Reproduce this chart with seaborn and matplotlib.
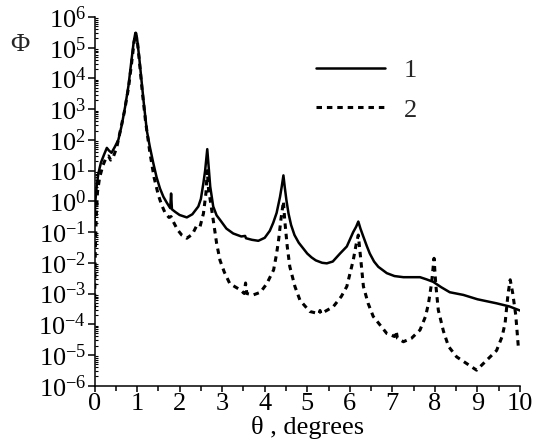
import numpy as np
import pandas as pd
import matplotlib
matplotlib.use("Agg")
import matplotlib.pyplot as plt
import matplotlib.ticker as mticker
import seaborn as sns

# ---- data ----
theta1 = [0.00, 0.02, 0.05, 0.09, 0.15, 0.22, 0.29, 0.34, 0.40, 0.48, 0.56, 0.64,
          0.72, 0.80, 0.87, 0.92, 0.96, 1.00, 1.05, 1.10, 1.16, 1.23, 1.30, 1.38,
          1.46, 1.54, 1.62, 1.70, 1.78, 1.80, 1.82, 1.90, 2.00, 2.17, 2.30, 2.44,
          2.50, 2.56, 2.60, 2.65, 2.69, 2.72, 2.79, 2.87, 2.95, 3.10, 3.26, 3.45,
          3.54, 3.56, 3.70, 3.85, 4.00, 4.12, 4.20, 4.28, 4.36, 4.40, 4.44, 4.47,
          4.51, 4.56, 4.62, 4.70, 4.80, 4.90, 5.00, 5.10, 5.20, 5.35, 5.46, 5.60,
          5.77, 5.93, 6.08, 6.15, 6.20, 6.25, 6.32, 6.40, 6.47, 6.57, 6.67, 6.87,
          7.05, 7.26, 7.45, 7.65, 7.80, 7.96, 8.15, 8.35, 8.67, 9.00, 9.45, 9.75,
          10.00]
phi1 = [0.2, 1.0, 3.0, 8.0, 18, 32, 55, 45, 38, 60, 100, 300,
        1200, 6000, 4e4, 1.5e5, 3e5, 2e5, 5e4, 1e4, 1500, 200, 60, 18,
        6.0, 2.6, 1.4, 0.9, 0.6, 1.8, 0.55, 0.45, 0.36, 0.30, 0.38, 0.68,
        1.2, 4.0, 10, 50, 10, 3.0, 0.68, 0.35, 0.25, 0.13, 0.09, 0.072,
        0.075, 0.063, 0.056, 0.052, 0.065, 0.11, 0.2, 0.42, 1.4, 3.0, 7.0, 3.0,
        1.1, 0.4, 0.17, 0.08, 0.045, 0.03, 0.02, 0.015, 0.012, 0.010, 0.0096, 0.011,
        0.02, 0.034, 0.10, 0.15, 0.22, 0.13, 0.07, 0.035, 0.02, 0.011, 0.0074, 0.0046,
        0.0037, 0.0034, 0.0034, 0.0034, 0.0029, 0.0024, 0.0016, 0.0011, 0.0009, 0.00065, 0.00048, 0.00038,
        0.00028]

theta2 = [0.00, 0.01, 0.02, 0.04, 0.07, 0.12, 0.20, 0.28, 0.33, 0.38, 0.45, 0.52,
          0.60, 0.70, 0.80, 0.87, 0.93, 0.97, 1.01, 1.06, 1.12, 1.20, 1.30, 1.40,
          1.50, 1.58, 1.66, 1.75, 1.80, 1.85, 1.95, 2.05, 2.17, 2.30, 2.40, 2.48,
          2.56, 2.62, 2.65, 2.68, 2.72, 2.79, 2.87, 2.95, 3.05, 3.18, 3.43, 3.52,
          3.55, 3.58, 3.73, 3.90, 4.05, 4.15, 4.21, 4.28, 4.33, 4.38, 4.44, 4.47,
          4.53, 4.59, 4.71, 4.83, 5.06, 5.28, 5.30, 5.32, 5.61, 5.80, 5.93, 6.08,
          6.15, 6.20, 6.26, 6.32, 6.43, 6.55, 6.87, 7.05, 7.09, 7.12, 7.26, 7.45,
          7.65, 7.78, 7.85, 7.92, 7.98, 8.02, 8.08, 8.20, 8.32, 8.51, 8.98, 9.45,
          9.58, 9.65, 9.72, 9.77, 9.83, 9.90, 9.96]
phi2 = [3e-4, 3e-3, 0.03, 0.3, 2.0, 6.0, 15, 28, 30, 22, 30, 55,
        180, 800, 5000, 3e4, 1.5e5, 3e5, 1.5e5, 3e4, 4000, 400, 40, 6.0,
        1.6, 0.75, 0.42, 0.3, 0.32, 0.22, 0.12, 0.08, 0.063, 0.085, 0.16, 0.15,
        0.4, 1.9, 10, 2.5, 1.1, 0.25, 0.043, 0.012, 0.005, 0.0021, 0.0013, 0.0010,
        0.0022, 0.0010, 0.0009, 0.0011, 0.0021, 0.0040, 0.0059, 0.02, 0.06, 0.25, 1.0, 0.25,
        0.034, 0.0075, 0.0017, 6e-4, 2.6e-4, 2.2e-4, 2.8e-4, 2.2e-4, 3.7e-4, 8e-4, 0.0017, 0.012,
        0.04, 0.08, 0.012, 0.0017, 4.8e-4, 1.8e-4, 5e-5, 4e-5, 6e-5, 3.5e-5, 2.7e-5, 3.5e-5,
        6.5e-5, 1.8e-4, 4.8e-4, 2.1e-3, 0.014, 2e-3, 2.9e-4, 6e-5, 1.9e-5, 8.7e-6, 3.2e-6, 1.4e-5,
        4e-5, 1.1e-4, 1e-3, 2.8e-3, 1e-3, 2e-4, 1.9e-5]

legend_labels = ["1", "2"]

df1 = pd.DataFrame({"theta": theta1, "phi": phi1})
df2 = pd.DataFrame({"theta": theta2, "phi": phi2})

sns.set_theme(style="ticks")
plt.rcParams["font.family"] = ["Liberation Serif", "DejaVu Serif"]
plt.rcParams["mathtext.fontset"] = "stix"
FS = 19
plt.rcParams["font.size"] = FS

fig = plt.figure(figsize=(5.34, 4.46), dpi=100)
ax = fig.add_axes([94.5 / 534, 1 - 385.7 / 446, (520 - 94.5) / 534, (385.7 - 17) / 446])

sns.lineplot(data=df1, x="theta", y="phi", ax=ax, color="black", lw=1.8,
             estimator=None, sort=False, label=legend_labels[0])
sns.lineplot(data=df2, x="theta", y="phi", ax=ax, color="black", lw=2.2,
             estimator=None, sort=False, label=legend_labels[1],
             linestyle=(0, (1.8, 1.6)))

ax.set_yscale("log")
ax.set_xlim(0, 10)
ax.set_ylim(1e-6, 1e6)

ax.xaxis.set_major_locator(mticker.MultipleLocator(1))
ax.xaxis.set_minor_locator(mticker.MultipleLocator(0.5))
ax.yaxis.set_major_locator(mticker.LogLocator(base=10, numticks=20))
ax.yaxis.set_minor_locator(mticker.LogLocator(base=10, subs=np.arange(2, 10), numticks=20))
ax.yaxis.set_minor_formatter(mticker.NullFormatter())

for s in ["top", "right"]:
    ax.spines[s].set_visible(False)
for s in ["left", "bottom"]:
    ax.spines[s].set_linewidth(1.1)
    ax.spines[s].set_color("black")

ax.tick_params(axis="x", which="major", direction="out", length=4.0, width=1.1,
               labelsize=FS, colors="black", pad=1)
ax.tick_params(axis="x", which="minor", direction="out", length=3.5, width=1.1, colors="black")
ax.tick_params(axis="y", which="major", direction="out", length=5, width=1.1,
               labelsize=FS, colors="black", pad=1)
ax.tick_params(axis="y", which="minor", direction="in", length=2, width=0.8, colors="black")

ax.set_xlabel("θ , degrees", fontsize=FS, labelpad=1, color="black")
ax.set_ylabel("")
fig.text(20 / 534, 1 - 45 / 446, "Φ", fontsize=FS, ha="center", va="center")

leg = ax.legend(loc="center", bbox_to_anchor=(366.5 / 534, 1 - 90 / 446),
                bbox_transform=fig.transFigure, frameon=False, borderpad=0,
                handlelength=2.6, handletextpad=0.72, labelspacing=0.62, fontsize=FS)
for line in leg.get_lines():
    line.set_color("black")

fig.savefig("out.png", dpi=100, facecolor="white")
